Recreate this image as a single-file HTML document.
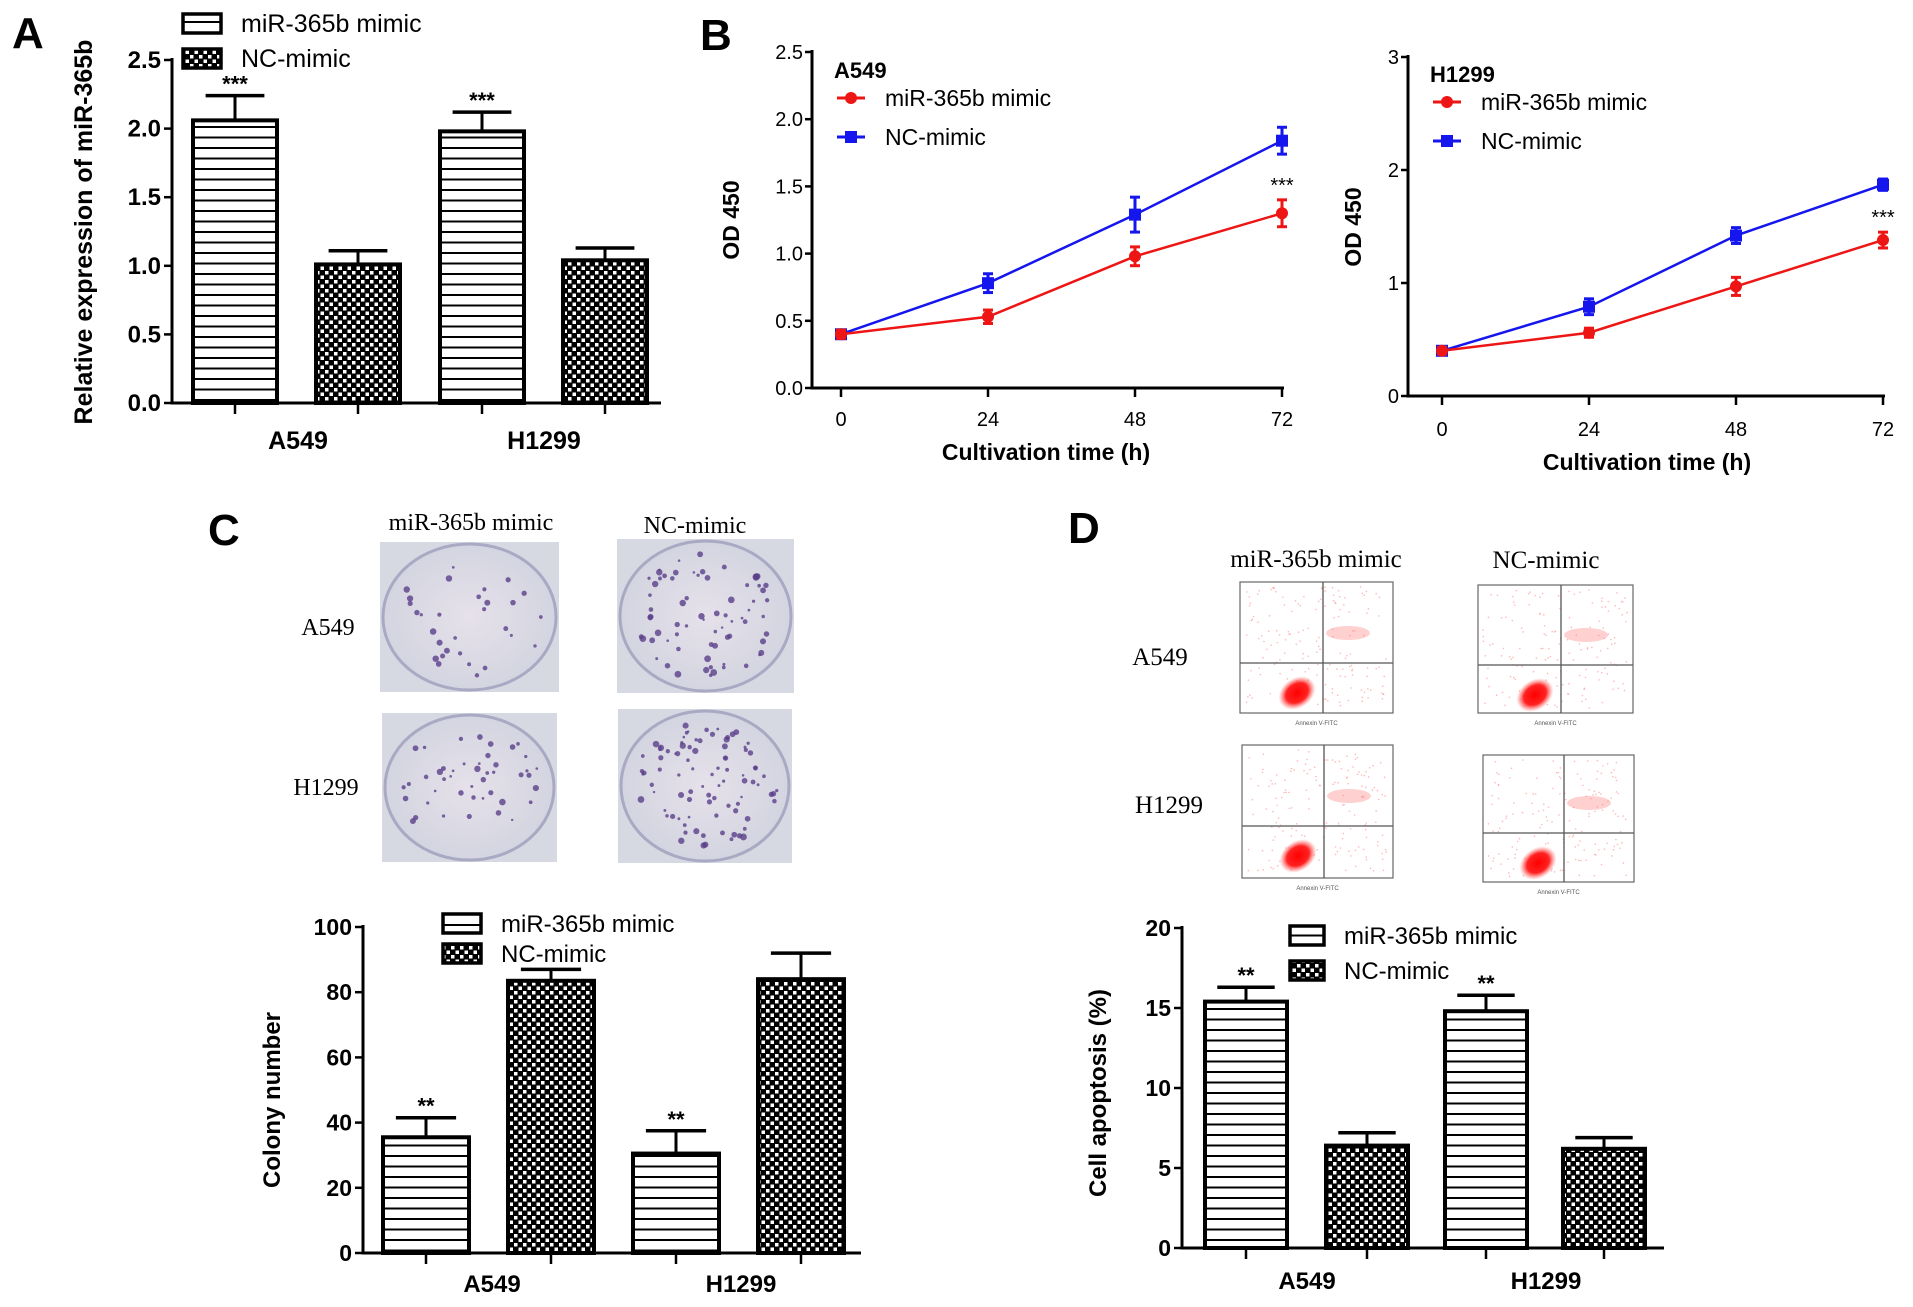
<!DOCTYPE html>
<html><head><meta charset="utf-8"><style>
html,body{margin:0;padding:0;background:#fff;}
svg{display:block;font-family:"Liberation Sans",Arial,sans-serif;}
</style></head><body>
<svg id="fig" width="1913" height="1307" viewBox="0 0 1913 1307" xmlns="http://www.w3.org/2000/svg">
<defs>
<pattern id="stripes" width="10" height="10.5" patternUnits="userSpaceOnUse"><rect width="10" height="10.5" fill="#fff"/><rect y="0" width="10" height="2" fill="#000"/></pattern>
<pattern id="checks" width="9" height="9" patternUnits="userSpaceOnUse"><rect width="9" height="9" fill="#000"/><rect x="1" y="1" width="3.5" height="3.5" fill="#fff"/><rect x="5.5" y="5.5" width="3.5" height="3.5" fill="#fff"/></pattern>
<radialGradient id="plate" cx="50%" cy="50%" r="60%"><stop offset="0" stop-color="#e6e1ea"/><stop offset="1" stop-color="#cfd2de"/></radialGradient>
<radialGradient id="blob" cx="50%" cy="50%" r="50%"><stop offset="0" stop-color="#f00"/><stop offset="0.6" stop-color="#f22"/><stop offset="1" stop-color="#f66" stop-opacity="0"/></radialGradient>
</defs>
<g id="root"></g>
</svg>
<script>
// ---------- data ----------
const barCategories = ["A549", "H1299"];
const barSeries = ["miR-365b mimic", "NC-mimic"];
const aMimic = [2.06, 1.98];
const aNC = [1.01, 1.04];
const aMimicErr = [0.18, 0.14];
const aNCErr = [0.10, 0.09];
const aTicks = ["0.0", "0.5", "1.0", "1.5", "2.0", "2.5"];
const cMimic = [35.5, 30.5];
const cNC = [83.5, 84];
const cMimicErr = [6, 7];
const cNCErr = [3.5, 8];
const cTicks = ["0", "20", "40", "60", "80", "100"];
const dMimic = [15.4, 14.8];
const dNC = [6.4, 6.2];
const dMimicErr = [0.9, 1.0];
const dNCErr = [0.8, 0.7];
const dTicks = ["0", "5", "10", "15", "20"];
const timeCats = [0, 24, 48, 72];
const bA549Mimic = [0.40, 0.53, 0.98, 1.30];
const bA549MimicErr = [0.03, 0.05, 0.07, 0.10];
const bA549NC = [0.40, 0.78, 1.29, 1.84];
const bA549NCErr = [0.03, 0.07, 0.13, 0.10];
const bA549Ticks = ["0.0", "0.5", "1.0", "1.5", "2.0", "2.5"];
const bH1299Mimic = [0.40, 0.56, 0.97, 1.38];
const bH1299MimicErr = [0.03, 0.04, 0.08, 0.07];
const bH1299NC = [0.40, 0.79, 1.42, 1.87];
const bH1299NCErr = [0.03, 0.07, 0.07, 0.05];
const bH1299Ticks = ["0", "1", "2", "3"];

const NS = "http://www.w3.org/2000/svg";
const root = document.getElementById("root");
function mk(tag, attrs, parent, text) {
  const e = document.createElementNS(NS, tag);
  for (const k in attrs) e.setAttribute(k, attrs[k]);
  if (text !== undefined) e.textContent = text;
  (parent || root).appendChild(e);
  return e;
}
function txt(x, y, s, size, opts, parent) {
  const o = Object.assign({x: x, y: y, "font-size": size, fill: "#000"}, opts || {});
  return mk("text", o, parent, s);
}

// ---------- bar chart ----------
function barChart(p) {
  const g = mk("g", {});
  
  
  const ys = v => p.y0 - (v / p.max) * (p.y0 - p.yTop);
  // axes
  mk("line", {x1: p.ax, y1: p.yTop - 2, x2: p.ax, y2: p.y0 + 1.5, stroke: "#000", "stroke-width": 3}, g);
  mk("line", {x1: p.ax - 1.5, y1: p.y0, x2: p.axEnd, y2: p.y0, stroke: "#000", "stroke-width": 3}, g);
  p.ticks.forEach((t, i) => {
    const v = p.max * i / (p.ticks.length - 1);
    const y = ys(v);
    mk("line", {x1: p.ax - 8, y1: y, x2: p.ax, y2: y, stroke: "#000", "stroke-width": 2.5}, g);
    const tl = txt(p.ax - 11, y + 8, t, p.fs, {"text-anchor": "end", "font-weight": "bold"}, g);
    
    
  });
  const series = [[p.mimic, p.mimicErr, "url(#stripes)", "stars"], [p.nc, p.ncErr, "url(#checks)", null]];
  for (let c = 0; c < barCategories.length; c++) {
    for (let s = 0; s < 2; s++) {
      const left = p.barX[c * 2 + s];
      const w = p.barW;
      const v = series[s][0][c], e = series[s][1][c];
      const cx = left + w / 2;
      const yT = ys(v), yE = ys(v + e);
      mk("line", {x1: cx, y1: yT, x2: cx, y2: yE, stroke: "#000", "stroke-width": 3}, g);
      mk("line", {x1: cx - w * 0.35, y1: yE, x2: cx + w * 0.35, y2: yE, stroke: "#000", "stroke-width": 3.5}, g);
      const r = mk("rect", {x: left, y: yT, width: w, height: p.y0 - yT, fill: series[s][2], stroke: "#000", "stroke-width": 4}, g);
      
      
      mk("line", {x1: cx, y1: p.y0, x2: cx, y2: p.y0 + 11, stroke: "#000", "stroke-width": 2.5}, g);
      if (s === 0) {
        const st = txt(cx, yE - 4, p.stars, 22, {"text-anchor": "middle", "font-weight": "bold"}, g);
        
        
      }
    }
    const cl = txt(p.catX[c], p.catY, barCategories[c], p.fs + 1, {"text-anchor": "middle", "font-weight": "bold"}, g);
    
    
  }
  const yl = txt(0, 0, p.ylabel, p.fs + 1, {"text-anchor": "middle", "font-weight": "bold", transform: "translate(" + p.ylx + "," + p.yly + ") rotate(-90)"}, g);
  
  
  // legend
  const fills = ["url(#stripes)", "url(#checks)"];
  for (let s = 0; s < 2; s++) {
    const ly = p.legY[s];
    const lb = mk("rect", {x: p.legX, y: ly, width: p.legW, height: 19, fill: fills[s], stroke: "#000", "stroke-width": 3.5}, g);
    
    
    const lt = txt(p.legX + p.legW + 20, ly + 18, barSeries[s], p.legFs, {}, g);
    
    
  }
}

barChart({name: "chart-a-relative-expression", ax: 172, axEnd: 661, yTop: 60, y0: 403, max: 2.5, ticks: aTicks,
  mimic: aMimic, nc: aNC, mimicErr: aMimicErr, ncErr: aNCErr, barX: [193, 316, 440, 563], barW: 84,
  catX: [298, 544], catY: 449, fs: 24, stars: "***", ylabel: "Relative expression of miR-365b", ylx: 92, yly: 232,
  legX: 183, legY: [14, 49], legW: 38, legFs: 25});
barChart({name: "chart-c-colony-number", ax: 363, axEnd: 861, yTop: 927, y0: 1253, max: 100, ticks: cTicks,
  mimic: cMimic, nc: cNC, mimicErr: cMimicErr, ncErr: cNCErr, barX: [383, 508, 633, 758], barW: 86,
  catX: [492, 741], catY: 1292, fs: 23, stars: "**", ylabel: "Colony number", ylx: 280, yly: 1100,
  legX: 443, legY: [914, 944], legW: 38, legFs: 24});
barChart({name: "chart-d-cell-apoptosis", ax: 1182, axEnd: 1664, yTop: 928, y0: 1248, max: 20, ticks: dTicks,
  mimic: dMimic, nc: dNC, mimicErr: dMimicErr, ncErr: dNCErr, barX: [1205, 1326, 1445, 1563], barW: 82,
  catX: [1307, 1546], catY: 1289, fs: 23, stars: "**", ylabel: "Cell apoptosis (%)", ylx: 1106, yly: 1093,
  legX: 1290, legY: [926, 961], legW: 34, legFs: 24});

// ---------- line chart ----------
function lineChart(p) {
  const g = mk("g", {});
  
  
  const ys = v => p.y0 - (v / p.max) * (p.y0 - p.yTop);
  const xs = t => p.x0 + (t / 72) * (p.x72 - p.x0);
  mk("line", {x1: p.ax, y1: p.yTop - 2, x2: p.ax, y2: p.y0 + 1.5, stroke: "#000", "stroke-width": 3}, g);
  mk("line", {x1: p.ax - 1.5, y1: p.y0, x2: p.x72 + 2, y2: p.y0, stroke: "#000", "stroke-width": 3}, g);
  p.ticks.forEach((t, i) => {
    const y = ys(p.max * i / (p.ticks.length - 1));
    mk("line", {x1: p.ax - 7, y1: y, x2: p.ax, y2: y, stroke: "#000", "stroke-width": 2.5}, g);
    const tl = txt(p.ax - 9, y + 7, t, 20, {"text-anchor": "end"}, g);
    
    
  });
  timeCats.forEach(t => {
    mk("line", {x1: xs(t), y1: p.y0, x2: xs(t), y2: p.y0 + 9, stroke: "#000", "stroke-width": 2.5}, g);
    const tl = txt(xs(t), p.tickY, String(t), 20, {"text-anchor": "middle"}, g);
    
    
  });
  const xt = txt(p.titleX, p.titleY, "Cultivation time (h)", 23, {"text-anchor": "middle", "font-weight": "bold"}, g);
  
  
  const yt = txt(0, 0, "OD 450", 23, {"text-anchor": "middle", "font-weight": "bold", transform: "translate(" + p.ylx + "," + p.yly + ") rotate(-90)"}, g);
  
  
  const ct = txt(p.ax + 22, p.cellY, p.cell, 22, {"font-weight": "bold"}, g);
  
  
  const sets = [[p.nc, p.ncErr, "#1515ee", "square"], [p.mimic, p.mimicErr, "#ee1515", "circle"]];
  sets.forEach(([vals, errs, col, shape]) => {
    const pts = vals.map((v, i) => xs(timeCats[i]) + "," + ys(v)).join(" ");
    const pl = mk("polyline", {points: pts, fill: "none", stroke: col, "stroke-width": 2.5}, g);
    
    
    vals.forEach((v, i) => {
      const x = xs(timeCats[i]);
      const y1 = ys(v + errs[i]), y2 = ys(v - errs[i]);
      mk("line", {x1: x, y1: y1, x2: x, y2: y2, stroke: col, "stroke-width": 3}, g);
      mk("line", {x1: x - 5, y1: y1, x2: x + 5, y2: y1, stroke: col, "stroke-width": 3}, g);
      mk("line", {x1: x - 5, y1: y2, x2: x + 5, y2: y2, stroke: col, "stroke-width": 3}, g);
      let m;
      if (shape === "circle") m = mk("circle", {cx: x, cy: ys(v), r: 6, fill: col}, g);
      else m = mk("rect", {x: x - 6, y: ys(v) - 6, width: 12, height: 12, fill: col}, g);
      
      
    });
  });
  const st = txt(p.x72, ys(p.mimic[3] + p.mimicErr[3]) - 8, "***", 20, {"text-anchor": "middle"}, g);
  
  
  // legend
  const lx = p.ax + 39;
  [[p.legY[0], "#ee1515", "circle", barSeries[0]], [p.legY[1], "#1515ee", "square", barSeries[1]]].forEach(([y, col, sh, lab]) => {
    mk("line", {x1: lx - 14, y1: y, x2: lx + 14, y2: y, stroke: col, "stroke-width": 3}, g);
    if (sh === "circle") mk("circle", {cx: lx, cy: y, r: 6, fill: col}, g);
    else mk("rect", {x: lx - 6, y: y - 6, width: 12, height: 12, fill: col}, g);
    const lt = txt(lx + 34, y + 8, lab, 23, {}, g);
    
    
  });
}
lineChart({name: "chart-b-a549-growth", ax: 812, x0: 841, x72: 1282, yTop: 52, y0: 388, max: 2.5, ticks: bA549Ticks,
  mimic: bA549Mimic, mimicErr: bA549MimicErr, nc: bA549NC, ncErr: bA549NCErr, tickY: 426, titleX: 1046, titleY: 460,
  ylx: 739, yly: 220, cell: "A549", cellY: 78, legY: [98, 137]});
lineChart({name: "chart-b-h1299-growth", ax: 1408, x0: 1442, x72: 1883, yTop: 57, y0: 396, max: 3, ticks: bH1299Ticks,
  mimic: bH1299Mimic, mimicErr: bH1299MimicErr, nc: bH1299NC, ncErr: bH1299NCErr, tickY: 436, titleX: 1647, titleY: 470,
  ylx: 1361, yly: 227, cell: "H1299", cellY: 82, legY: [102, 141]});

// ---------- panel letters ----------
[["A", 12, 48], ["B", 700, 50], ["C", 208, 545], ["D", 1068, 543]].forEach(([l, x, y]) => {
  const t = txt(x, y, l, 44, {"font-weight": "bold"});
  
  
});

// ---------- panel C photos ----------
const serif = {"font-family": "Liberation Serif, serif"};
function labelSerif(x, y, s, size, anchor, name) {
  const t = txt(x, y, s, size, Object.assign({"text-anchor": anchor}, serif));
  
  
}
labelSerif(471, 530, "miR-365b mimic", 24, "middle", "column-header-mimic");
labelSerif(695, 533, "NC-mimic", 24, "middle", "column-header-nc");
labelSerif(328, 635, "A549", 24, "middle", "row-label-a549");
labelSerif(326, 795, "H1299", 24, "middle", "row-label-h1299");
let seed = 7;
function rnd() { seed = (seed * 16807) % 2147483647; return seed / 2147483647; }
[[380, 542, 179, 150, 30], [617, 539, 177, 154, 70], [382, 713, 175, 149, 45], [618, 709, 174, 154, 90]].forEach(([x, y, w, h, n], idx) => {
  const g = mk("g", {});
  
  
  mk("rect", {x: x, y: y, width: w, height: h, fill: "#d6d8e2"}, g);
  mk("ellipse", {cx: x + w / 2, cy: y + h / 2, rx: w / 2 - 3, ry: h / 2 - 2, fill: "url(#plate)", stroke: "#a9a9c4", "stroke-width": 3}, g);
  for (let i = 0; i < n; i++) {
    const a = rnd() * Math.PI * 2, r = Math.sqrt(rnd()) * 0.88;
    mk("circle", {cx: x + w / 2 + Math.cos(a) * r * (w / 2 - 5), cy: y + h / 2 + Math.sin(a) * r * (h / 2 - 5), r: 1.2 + rnd() * 2.2, fill: "#5a3f8a", opacity: 0.8}, g);
  }
});

// ---------- panel D flow plots ----------
labelSerif(1316, 567, "miR-365b mimic", 25, "middle", "column-header-mimic");
labelSerif(1546, 568, "NC-mimic", 25, "middle", "column-header-nc");
labelSerif(1160, 665, "A549", 25, "middle", "row-label-a549");
labelSerif(1169, 813, "H1299", 25, "middle", "row-label-h1299");
[[1240, 582, 153, 131, 1323, 663], [1478, 585, 155, 128, 1561, 665], [1242, 745, 151, 133, 1324, 826], [1483, 755, 151, 127, 1564, 833]].forEach(([x, y, w, h, qx, qy]) => {
  const g = mk("g", {});
  
  
  mk("rect", {x: x, y: y, width: w, height: h, fill: "#fff", stroke: "#666", "stroke-width": 1.2}, g);
  for (let i = 0; i < 160; i++) {
    mk("circle", {cx: x + 5 + rnd() * (w - 10), cy: y + 5 + rnd() * (h - 10), r: 0.8, fill: "#f88", opacity: 0.6}, g);
  }
  mk("ellipse", {cx: qx + 25, cy: qy - 30, rx: 22, ry: 7, fill: "#f77", opacity: 0.35}, g);
  mk("ellipse", {cx: qx - 26, cy: qy + 30, rx: 20, ry: 15, fill: "url(#blob)", transform: "rotate(-35 " + (qx - 26) + " " + (qy + 30) + ")"}, g);
  mk("line", {x1: qx, y1: y, x2: qx, y2: y + h, stroke: "#555", "stroke-width": 1.3}, g);
  mk("line", {x1: x, y1: qy, x2: x + w, y2: qy, stroke: "#555", "stroke-width": 1.3}, g);
  const ax = txt(x + w / 2, y + h + 12, "Annexin V-FITC", 6, {"text-anchor": "middle", fill: "#555"}, g);
  
  
});
</script>
</body></html>
